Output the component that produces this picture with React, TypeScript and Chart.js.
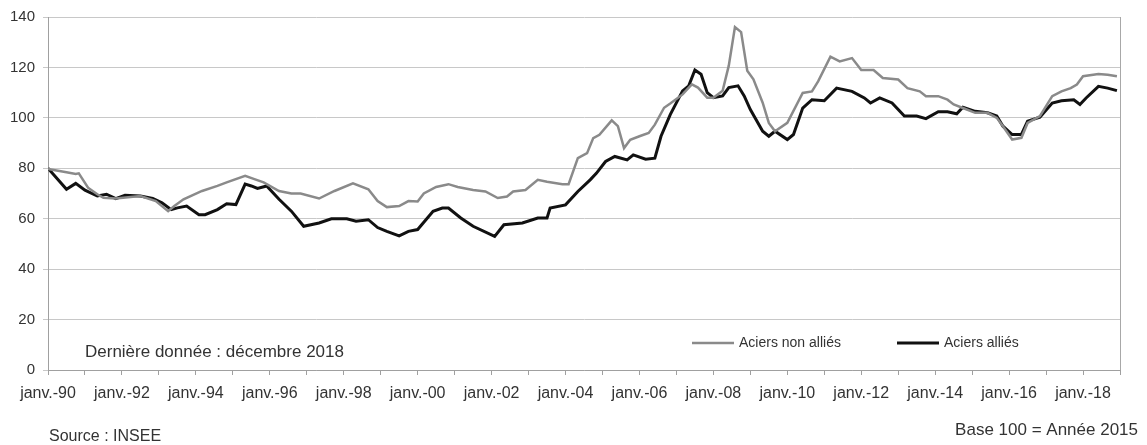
import React, { useEffect, useRef } from "react";
import { Chart, registerables } from "chart.js";

Chart.register(...registerables);

// Months since janv. 1990
const nonAllieMonths = [
  0, 6, 9, 10, 13, 16, 18, 22, 30, 35, 39, 41, 44, 50, 55, 58, 64, 67, 70, 75,
  79, 82, 88, 93, 99, 104, 107, 110, 114, 117, 120, 122, 126, 130, 133, 138, 142, 146, 149, 151,
  155, 159, 162, 167, 169, 172, 175, 177, 179, 183, 185, 187, 189, 192, 195, 197, 200, 202, 206, 209,
  211, 214, 216, 219, 221, 223, 225, 227, 229, 232, 234, 236, 240, 245, 248, 250, 254, 257, 261, 264,
  268, 271, 276, 279, 283, 285, 289, 292, 294, 297, 301, 305, 308, 310, 313, 316, 318, 322, 326, 329,
  332, 334, 336, 341, 344, 347,
];
const nonAllieValues = [
  79.7, 78.4, 77.7, 78.0, 72.3, 69.7, 68.3, 68.0, 69.0, 67.0, 63.0, 65.0, 67.7, 71.0, 73.0, 74.4, 77.0, 75.7, 74.4, 71.0,
  70.0, 70.0, 68.0, 71.0, 74.0, 71.7, 67.0, 64.6, 65.0, 67.0, 66.8, 70.0, 72.6, 73.7, 72.6, 71.4, 70.8, 68.2, 68.8, 70.8,
  71.4, 75.4, 74.7, 73.7, 73.7, 84.0, 86.0, 92.0, 93.3, 99.0, 96.7, 88.0, 91.3, 92.7, 94.0, 97.3, 104.0, 105.7, 109.3, 113.3,
  112.0, 108.0, 108.0, 110.7, 120.7, 136.0, 134.0, 118.7, 115.3, 106.0, 98.0, 94.7, 98.0, 109.9, 110.5, 114.5, 124.3, 122.4, 123.7, 119.0,
  119.0, 115.8, 115.2, 111.8, 110.5, 108.6, 108.6, 107.2, 105.3, 103.9, 102.0, 102.0, 100.0, 96.7, 91.4, 92.1, 98.0, 100.7, 108.6, 110.5,
  111.8, 113.2, 116.5, 117.4, 117.1, 116.5,
];

const allieMonths = [
  0, 6, 9, 12, 16, 19, 22, 25, 30, 34, 37, 40, 42, 45, 49, 51, 55, 58, 61, 64,
  66, 68, 71, 75, 79, 83, 88, 92, 97, 100, 104, 107, 110, 114, 117, 120, 125, 128, 130, 134,
  138, 145, 148, 154, 159, 162, 163, 168, 172, 176, 178, 181, 184, 188, 190, 194, 197, 199, 202, 206,
  208, 210, 212, 214, 216, 219, 221, 224, 226, 228, 232, 234, 236, 240, 242, 245, 248, 252, 256, 261,
  265, 267, 270, 274, 278, 282, 285, 289, 292, 295, 297, 301, 305, 308, 310, 313, 316, 318, 322, 326,
  329, 333, 335, 337, 341, 344, 347,
];
const allieValues = [
  80.0, 71.7, 74.0, 71.3, 69.0, 69.7, 68.0, 69.3, 69.0, 68.0, 66.3, 63.6, 64.3, 65.0, 61.6, 61.6, 63.6, 65.9, 65.6, 73.7,
  73.0, 72.0, 73.0, 67.7, 63.0, 57.0, 58.3, 60.0, 60.0, 59.0, 59.6, 56.5, 55.0, 53.2, 55.0, 55.7, 62.9, 64.2, 64.2, 60.3,
  57.0, 53.0, 57.6, 58.3, 60.3, 60.3, 64.2, 65.5, 70.8, 75.4, 78.0, 82.7, 84.7, 83.3, 85.3, 83.6, 84.0, 92.7, 101.3, 110.7,
  112.7, 119.0, 117.3, 110.0, 108.0, 108.7, 112.0, 112.7, 108.7, 103.3, 94.7, 92.7, 94.7, 91.4, 93.4, 103.9, 107.2, 106.8, 111.8, 110.5,
  107.9, 105.9, 107.9, 105.9, 100.7, 100.7, 99.7, 102.4, 102.4, 101.6, 104.2, 102.6, 102.0, 100.7, 96.7, 93.4, 93.4, 98.7, 100.3, 105.9,
  106.8, 107.2, 105.3, 107.9, 112.5, 111.8, 110.8,
];

const seriesNames = ["Aciers non alliés", "Aciers alliés"];
const seriesColors = ["#8a8a8a", "#111111"];
const startYear = 1990;
const monthCount = 348;
const yMin = 0;
const yMax = 140;
const yStep = 20;
const tickPrefix = "janv.-";
const noteText = "Dernière donnée : décembre 2018";
const sourceText = "Source : INSEE";
const baseText = "Base 100 = Année 2015";

const FONT = "'Liberation Sans', Arial, sans-serif";

const overlayPlugin = {
  id: "overlay",
  afterDraw(chart: any) {
    const { ctx, chartArea } = chart;
    const { left, right, top, bottom } = chartArea;
    ctx.save();
    // right border
    ctx.strokeStyle = "#a8a8a8";
    ctx.lineWidth = 1;
    ctx.beginPath();
    ctx.moveTo(right + 0.5, top);
    ctx.lineTo(right + 0.5, bottom);
    ctx.stroke();

    // legend
    const ly = bottom - 27;
    const items = [
      { x: left + 644, name: seriesNames[0], color: seriesColors[0], w: 2.5 },
      { x: left + 849, name: seriesNames[1], color: seriesColors[1], w: 3 },
    ];
    ctx.font = `14px ${FONT}`;
    ctx.textBaseline = "middle";
    ctx.textAlign = "left";
    for (const it of items) {
      ctx.strokeStyle = it.color;
      ctx.lineWidth = it.w;
      ctx.beginPath();
      ctx.moveTo(it.x, ly);
      ctx.lineTo(it.x + 42, ly);
      ctx.stroke();
      ctx.fillStyle = "#333";
      ctx.fillText(it.name, it.x + 47, ly);
    }

    // note
    ctx.font = `17px ${FONT}`;
    ctx.fillStyle = "#333";
    ctx.fillText(noteText, left + 37, bottom - 18);

    // source and base
    ctx.font = `16px ${FONT}`;
    ctx.fillText(sourceText, 49, 437);
    ctx.font = `17px ${FONT}`;
    ctx.textAlign = "right";
    ctx.fillText(baseText, 1138, 430);
    ctx.restore();
  },
};

export default function App() {
  const ref = useRef<HTMLCanvasElement>(null);
  useEffect(() => {
    if (!ref.current) return;
    const chart = new Chart(ref.current, {
      type: "line",
      data: {
        datasets: [
          {
            label: seriesNames[0],
            data: nonAllieMonths.map((m, i) => ({ x: m, y: nonAllieValues[i] })),
            borderColor: seriesColors[0],
            borderWidth: 2.5,
            pointRadius: 0,
            tension: 0,
          },
          {
            label: seriesNames[1],
            data: allieMonths.map((m, i) => ({ x: m, y: allieValues[i] })),
            borderColor: seriesColors[1],
            borderWidth: 3,
            pointRadius: 0,
            tension: 0,
          },
        ],
      },
      options: {
        animation: false,
        responsive: false,
        layout: { padding: { top: 16, right: 27, left: 0, bottom: 0 } },
        plugins: { legend: { display: false }, tooltip: { enabled: false } },
        scales: {
          x: {
            type: "linear",
            min: 0,
            max: monthCount,
            afterFit: (s: any) => {
              s.height = 75;
            },
            afterBuildTicks: (s: any) => {
              const t = [];
              for (let m = 0; m <= monthCount; m += 12) t.push({ value: m });
              s.ticks = t;
            },
            ticks: {
              autoSkip: false,
              maxRotation: 0,
              padding: 9,
              color: "#333",
              font: { family: FONT, size: 16 },
              callback: (v: any) => {
                const m = Number(v);
                if (m % 24 !== 0 || m >= monthCount) return "";
                const yr = (startYear + m / 12) % 100;
                return tickPrefix + String(yr).padStart(2, "0");
              },
            },
            grid: {
              drawOnChartArea: false,
              drawTicks: true,
              tickLength: 5,
              color: "#a0a0a0",
            },
            border: { display: true, color: "#a0a0a0" },
          },
          y: {
            min: yMin,
            max: yMax,
            afterFit: (s: any) => {
              s.width = 48;
            },
            ticks: {
              stepSize: yStep,
              padding: 8,
              color: "#333",
              font: { family: FONT, size: 15 },
            },
            grid: { color: "#c8c8c8", tickLength: 5, lineWidth: 1 },
            border: { display: true, color: "#a0a0a0" },
          },
        },
      },
      plugins: [overlayPlugin],
    });
    return () => chart.destroy();
  }, []);
  return (
    <div style={{ position: "absolute", left: 0, top: 0, width: 1147, height: 445, background: "#fff" }}>
      <canvas ref={ref} width={1147} height={445} style={{ display: "block" }} />
    </div>
  );
}
